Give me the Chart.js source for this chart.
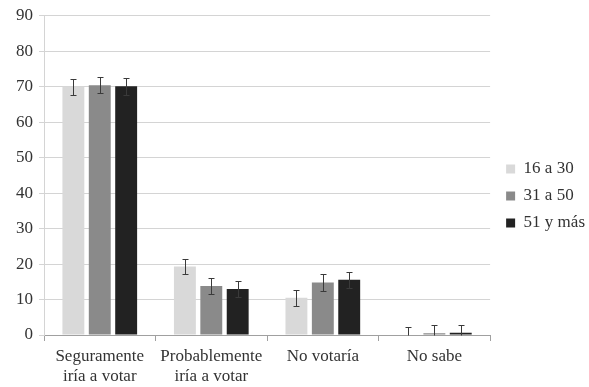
<!DOCTYPE html>
<html>
<head>
<meta charset="utf-8">
<script src="https://cdn.jsdelivr.net/npm/chart.js@4.4.0/dist/chart.umd.min.js"></script>
<style>
  body { margin: 0; background: #fff; }
  #wrap { width: 589px; height: 387px; }
</style>
</head>
<body>
<div id="wrap"><canvas id="chart" width="589" height="387"></canvas></div>
<script>
const categories = [['Seguramente', 'iría a votar'], ['Probablemente', 'iría a votar'], 'No votaría', 'No sabe'];
const groups = ['16 a 30', '31 a 50', '51 y más'];
const age16to30 = [70.0, 19.3, 10.5, 0.0];
const age31to50 = [70.4, 13.8, 14.8, 0.5];
const age51plus = [70.1, 13.0, 15.6, 0.6];
const err16to30 = [2.3, 2.2, 2.3, 2.2];
const err31to50 = [2.3, 2.2, 2.3, 2.3];
const err51plus = [2.3, 2.2, 2.3, 2.2];
const yTicks = [0, 10, 20, 30, 40, 50, 60, 70, 80, 90];

const colors = ['#d9d9d9', '#8a8a8a', '#222222'];
const errors = [err16to30, err31to50, err51plus];

// draws the error whiskers on top of the bars
const errorBars = {
  id: 'errorBars',
  afterDatasetsDraw(chart) {
    const ctx = chart.ctx;
    const y = chart.scales.y;
    ctx.save();
    ctx.strokeStyle = '#3a3a3a';
    ctx.lineWidth = 1;
    chart.data.datasets.forEach((ds, di) => {
      const meta = chart.getDatasetMeta(di);
      meta.data.forEach((bar, i) => {
        const v = ds.data[i];
        const e = errors[di][i];
        const top = Math.round(y.getPixelForValue(v + e)) + 0.5;
        const bot = Math.round(y.getPixelForValue(Math.max(v - e, 0))) + 0.5;
        const x = Math.round(bar.x) + 0.5;
        ctx.beginPath();
        ctx.moveTo(x, top); ctx.lineTo(x, bot);
        ctx.moveTo(x - 3, top); ctx.lineTo(x + 3, top);
        if (v - e > 0) { ctx.moveTo(x - 3, bot); ctx.lineTo(x + 3, bot); }
        ctx.stroke();
      });
    });
    ctx.restore();
  }
};

// nudge the legend a bit to the right, like the original
const legendShift = {
  id: 'legendShift',
  afterLayout(chart) {
    chart.legend.left += 6;
    chart.legend.right += 6;
  }
};

const font = { family: '"Liberation Serif", "Times New Roman", serif', size: 17, lineHeight: 1.15 };

new Chart(document.getElementById('chart').getContext('2d'), {
  type: 'bar',
  data: {
    labels: categories,
    datasets: [
      { label: groups[0], data: age16to30, backgroundColor: colors[0] },
      { label: groups[1], data: age31to50, backgroundColor: colors[1] },
      { label: groups[2], data: age51plus, backgroundColor: colors[2] }
    ]
  },
  options: {
    responsive: false,
    animation: false,
    layout: { padding: { top: 5, right: 0, left: 10, bottom: 0 } },
    datasets: { bar: { categoryPercentage: 0.71, barPercentage: 0.83 } },
    scales: {
      x: {
        grid: { drawOnChartArea: false, drawTicks: true, tickLength: 6, color: '#a0a0a0' },
        border: { color: '#a0a0a0' },
        ticks: { font: font, color: '#333', padding: 6, maxRotation: 0 },
        afterFit: (axis) => { axis.height = 52; }
      },
      y: {
        min: 0,
        max: 90,
        afterBuildTicks: (axis) => { axis.ticks = yTicks.map(v => ({ value: v })); },
        grid: { color: '#d4d4d4', tickLength: 5 },
        border: { color: '#d4d4d4' },
        ticks: { font: font, color: '#333', padding: 6 }
      }
    },
    plugins: {
      legend: {
        position: 'right',
        labels: { font: font, color: '#333', boxWidth: 9, boxHeight: 9, padding: 10 }
      },
      tooltip: { enabled: false }
    }
  },
  plugins: [errorBars, legendShift]
});
</script>
</body>
</html>
